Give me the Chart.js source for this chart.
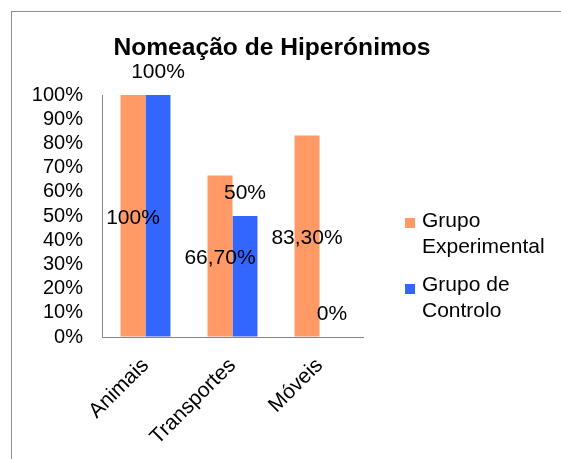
<!DOCTYPE html>
<html>
<head>
<meta charset="utf-8">
<script src="https://cdn.jsdelivr.net/npm/chart.js@4.4.1/dist/chart.umd.min.js"></script>
<style>
  html, body { margin: 0; padding: 0; background: #fff; }
  #wrap { position: relative; width: 561px; height: 459px; overflow: hidden; }
  #frame { position: absolute; left: 11px; top: 11px; width: 600px; height: 500px;
           border-left: 1px solid #8c8c8c; border-top: 1px solid #8c8c8c; }
  canvas { position: absolute; left: 0; top: 0; }
</style>
</head>
<body>
<div id="wrap">
  <div id="frame"></div>
  <canvas id="chart" width="561" height="459"></canvas>
</div>
<script>
const categories = ['Animais', 'Transportes', 'Móveis'];
const experimental = [100, 66.7, 83.3];
const controlo = [100, 50, 0];
const seriesNames = ['Grupo Experimental', 'Grupo de Controlo'];
const legendLines = [['Grupo', 'Experimental'], ['Grupo de', 'Controlo']];
const yTicks = [0, 10, 20, 30, 40, 50, 60, 70, 80, 90, 100];
const titleText = 'Nomeação de Hiperónimos';

const FONT = 'Liberation Sans, Arial, sans-serif';

function fmtPct(v) {
  if (Number.isInteger(v)) return v + '%';
  return v.toFixed(2).replace('.', ',') + '%';
}

// title, value labels and the two-line legend
const extras = {
  id: 'extras',
  afterDraw(chart) {
    const ctx = chart.ctx;
    ctx.save();
    ctx.fillStyle = '#000';

    // title
    ctx.font = 'bold 24.6px ' + FONT;
    ctx.textAlign = 'center';
    ctx.textBaseline = 'alphabetic';
    ctx.fillText(titleText, 272, 55);

    // value labels
    ctx.font = '21px ' + FONT;
    ctx.textBaseline = 'middle';
    chart.data.datasets.forEach((ds, i) => {
      const meta = chart.getDatasetMeta(i);
      meta.data.forEach((bar, j) => {
        const txt = fmtPct(ds.data[j]);
        let y;
        if (i === 0) {
          y = (bar.y + bar.base) / 2 + 2;
        } else {
          y = bar.y - 22.5;
        }
        ctx.fillText(txt, bar.x, y);
      });
    });

    // legend
    const lx = chart.chartArea.right + 42;
    const baselines = [227, 291];
    ctx.textAlign = 'left';
    ctx.textBaseline = 'alphabetic';
    chart.data.datasets.forEach((ds, i) => {
      const b = baselines[i];
      ctx.fillStyle = ds.backgroundColor;
      ctx.fillRect(lx, b - 9 - (i === 1 ? -2 : 0), 10, 10);
      ctx.fillStyle = '#000';
      legendLines[i].forEach((line, k) => {
        ctx.fillText(line, lx + 17, b + k * 25.5);
      });
    });
    ctx.restore();
  }
};

new Chart(document.getElementById('chart'), {
  type: 'bar',
  data: {
    labels: categories,
    datasets: [
      { label: seriesNames[0], data: experimental, backgroundColor: '#FF9966',
        categoryPercentage: 0.574, barPercentage: 1.0 },
      { label: seriesNames[1], data: controlo, backgroundColor: '#3366FF',
        categoryPercentage: 0.574, barPercentage: 1.0 }
    ]
  },
  options: {
    responsive: false,
    animation: false,
    layout: { padding: { left: 11, top: 95, right: 198, bottom: 0 } },
    plugins: {
      legend: { display: false },
      title: { display: false },
      tooltip: { enabled: false }
    },
    scales: {
      x: {
        grid: { drawOnChartArea: false, drawTicks: false },
        border: { display: true, color: '#868686', width: 1 },
        ticks: {
          color: '#000',
          font: { family: FONT, size: 21, lineHeight: 1.9 },
          minRotation: 45, maxRotation: 45,
          autoSkip: false,
          padding: 11
        },
        afterFit(scale) { scale.height = 122; }
      },
      y: {
        min: 0, max: 100,
        grid: { drawOnChartArea: false, drawTicks: false },
        border: { display: true, color: '#868686', width: 1 },
        afterBuildTicks(scale) { scale.ticks = yTicks.map(v => ({ value: v })); },
        ticks: {
          color: '#000',
          font: { family: FONT, size: 20 },
          autoSkip: false,
          padding: 19,
          callback: v => v + '%'
        },
        afterFit(scale) { scale.width = 91; }
      }
    }
  },
  plugins: [extras]
});
</script>
</body>
</html>
